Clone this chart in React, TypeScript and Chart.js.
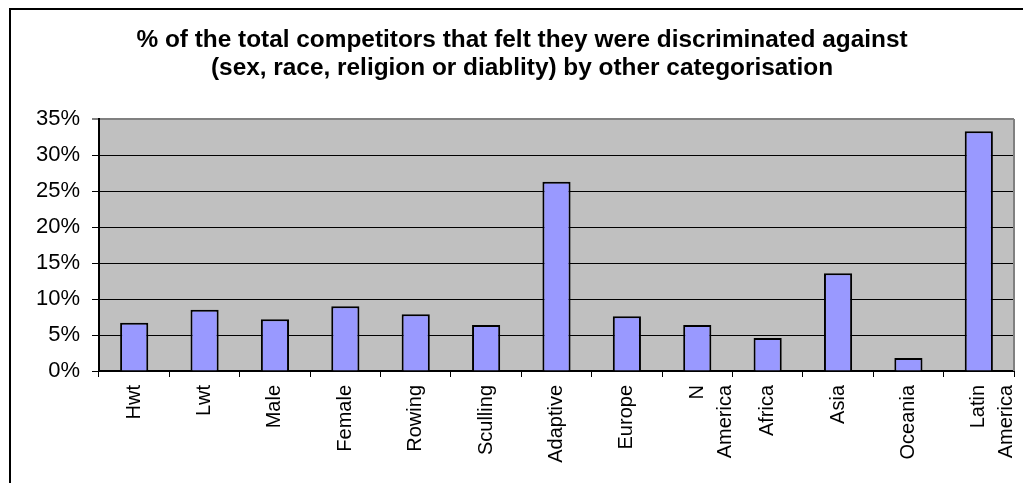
import React, { useEffect, useRef } from "react";
import { Chart, registerables } from "chart.js";

Chart.register(...registerables);

const TITLE_LINES = [
  "% of the total competitors that felt they were discriminated against",
  "(sex, race, religion or diablity) by other categorisation",
];

const CATEGORIES: (string | string[])[] = [
  "Hwt",
  "Lwt",
  "Male",
  "Female",
  "Rowing",
  "Sculling",
  "Adaptive",
  "Europe",
  ["N", "America"],
  "Africa",
  "Asia",
  "Oceania",
  ["Latin", "America"],
];

const VALUES = [6.7, 8.5, 7.2, 9.0, 7.9, 6.4, 26.3, 7.6, 6.4, 4.6, 13.6, 1.8, 33.3];

const Y_MIN = 0;
const Y_MAX = 35;
const Y_STEP = 5;

const FONT = "Arial, 'Liberation Sans', Helvetica, sans-serif";

const framePlugin = {
  id: "frame",
  beforeDraw(chart: any) {
    const { ctx, chartArea } = chart;
    ctx.save();
    ctx.fillStyle = "#ffffff";
    ctx.fillRect(0, 0, chart.width, chart.height);
    ctx.fillStyle = "#C0C0C0";
    ctx.fillRect(
      chartArea.left,
      chartArea.top,
      chartArea.right - chartArea.left,
      chartArea.bottom - chartArea.top
    );
    ctx.restore();
  },
  afterDraw(chart: any) {
    const { ctx, chartArea } = chart;
    ctx.save();
    ctx.strokeStyle = "#808080";
    ctx.lineWidth = 2;
    ctx.beginPath();
    ctx.moveTo(chartArea.right, chartArea.top);
    ctx.lineTo(chartArea.right, chartArea.bottom);
    ctx.stroke();
    ctx.strokeStyle = "#000000";
    ctx.lineWidth = 2;
    ctx.beginPath();
    ctx.moveTo(10, chart.height + 5);
    ctx.lineTo(10, 9);
    ctx.lineTo(chart.width + 5, 9);
    ctx.stroke();
    ctx.restore();
  },
};

export default function App() {
  const ref = useRef<HTMLCanvasElement | null>(null);

  useEffect(() => {
    if (!ref.current) return;
    const chart = new Chart(ref.current, {
      type: "bar",
      data: {
        labels: CATEGORIES,
        datasets: [
          {
            data: VALUES,
            backgroundColor: "#9999FF",
            borderColor: "#000000",
            borderWidth: 2,
            barPercentage: 0.4,
            categoryPercentage: 1,
          },
        ],
      },
      options: {
        responsive: false,
        animation: false,
        devicePixelRatio: 1,
        layout: { padding: { left: 30, right: 9, top: 0, bottom: 0 } },
        plugins: {
          legend: { display: false },
          tooltip: { enabled: false },
          title: {
            display: true,
            text: TITLE_LINES,
            color: "#000000",
            font: { family: FONT, size: 24.4, weight: "bold", lineHeight: 1.15 },
            padding: { top: 26, bottom: 37 },
          },
        },
        scales: {
          x: {
            offset: true,
            grid: {
              offset: true,
              drawOnChartArea: false,
              drawTicks: true,
              tickLength: 6,
              color: "#000000",
            },
            border: { display: true, color: "#000000", width: 2 },
            ticks: {
              autoSkip: false,
              minRotation: 90,
              maxRotation: 90,
              padding: 8,
              color: "#000000",
              font: { family: FONT, size: 20, lineHeight: 1.4 },
            },
            afterFit(scale: any) {
              scale.height = 112;
              scale.paddingLeft = 0;
              scale.paddingRight = 0;
            },
          },
          y: {
            min: Y_MIN,
            max: Y_MAX,
            ticks: {
              stepSize: Y_STEP,
              padding: 12,
              color: "#000000",
              font: { family: FONT, size: 22 },
              callback: (v: any) => `${v}%`,
            },
            grid: {
              drawTicks: true,
              tickLength: 7,
              color: (c: any) => (c.tick && c.tick.value === Y_MAX ? "#808080" : "#000000"),
              lineWidth: (c: any) => (c.tick && c.tick.value === Y_MAX ? 2 : 1),
            },
            border: { display: true, color: "#000000", width: 2 },
            afterFit(scale: any) {
              scale.width = 69;
            },
          },
        },
      },
      plugins: [framePlugin],
    } as any);
    return () => chart.destroy();
  }, []);

  return (
    <div style={{ position: "absolute", left: 0, top: 0, width: 1023, height: 483, background: "#fff" }}>
      <canvas ref={ref} width={1023} height={483} style={{ display: "block" }} />
    </div>
  );
}
